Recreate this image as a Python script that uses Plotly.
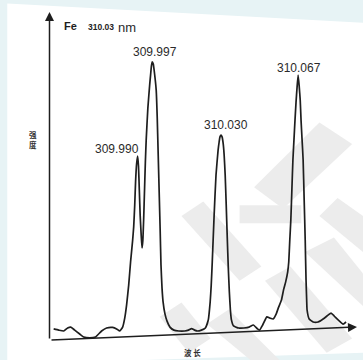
import plotly.graph_objects as go

# Fe 310.03 nm spectral window: wavelength (nm) and relative intensity
wavelength_nm = [
    309.9497, 309.9521, 309.9545, 309.9564, 309.9579, 309.9598, 309.9622, 309.9641,
    309.9670, 309.9698, 309.9727, 309.9751, 309.9780, 309.9799, 309.9814, 309.9828,
    309.9838, 309.9847, 309.9857, 309.9866, 309.9876, 309.9881, 309.9886, 309.9890,
    309.9895, 309.9900,
    309.9904, 309.9908, 309.9912, 309.9917, 309.9921, 309.9925, 309.9929, 309.9933,
    309.9937, 309.9941, 309.9949, 309.9958, 309.9962, 309.9966, 309.9970,
    309.9975, 309.9979, 309.9989, 309.9994, 309.9998, 310.0003, 310.0008, 310.0012,
    310.0017, 310.0022, 310.0031, 310.0041, 310.0055, 310.0074, 310.0097, 310.0126,
    310.0144, 310.0159, 310.0173, 310.0187, 310.0206, 310.0225, 310.0239, 310.0248,
    310.0253, 310.0258, 310.0267, 310.0276, 310.0286, 310.0291, 310.0295, 310.0300,
    310.0305, 310.0310, 310.0315, 310.0320, 310.0325, 310.0330, 310.0335, 310.0340,
    310.0345, 310.0350, 310.0360, 310.0385, 310.0410, 310.0435, 310.0455, 310.0475,
    310.0485, 310.0500, 310.0520, 310.0535, 310.0550, 310.0565, 310.0575, 310.0590,
    310.0600, 310.0610, 310.0620, 310.0625, 310.0630, 310.0635, 310.0640, 310.0645,
    310.0650, 310.0655, 310.0660, 310.0665, 310.0670,
    310.0675, 310.0680, 310.0684, 310.0689, 310.0694, 310.0699, 310.0704, 310.0708,
    310.0711, 310.0713, 310.0723, 310.0742, 310.0766, 310.0790, 310.0814, 310.0828,
    310.0843, 310.0862, 310.0886, 310.0900,
]
intensity = [
    3.7, 3.3, 3.0, 4.0, 4.3, 3.3, 2.0, 1.0,
    0.7, 1.0, 3.0, 4.0, 4.2, 3.7, 3.0, 4.3,
    7.3, 11.7, 18.3, 26.0, 33.3, 37.7, 45.0, 52.7,
    58.7, 61.3,
    58.0, 50.0, 41.7, 35.0, 30.7, 33.3, 40.7, 50.0,
    59.3, 66.7, 77.3, 85.3, 88.3, 91.3, 92.7,
    92.0, 90.0, 83.3, 74.0, 63.3, 50.0, 36.7, 25.0,
    17.3, 12.7, 8.7, 6.3, 4.3, 3.3, 3.0, 3.0,
    3.3, 3.8, 3.3, 3.0, 3.3, 4.0, 6.7, 12.7,
    18.3, 26.0, 41.7, 55.0, 63.3, 66.0, 67.7, 68.3,
    67.7, 65.7, 61.7, 55.0, 45.0, 34.0, 24.0, 16.0,
    10.0, 6.7, 4.7, 4.0, 4.0, 4.3, 5.0, 3.7,
    3.3, 5.0, 7.7, 7.3, 7.0, 8.7, 10.7, 13.3,
    16.7, 19.3, 22.7, 26.0, 33.3, 40.0, 50.0, 60.0,
    66.7, 73.3, 79.3, 84.3, 88.3,
    84.7, 80.0, 73.3, 66.7, 60.0, 46.7, 33.3, 20.0,
    13.3, 10.0, 7.0, 6.0, 6.0, 7.0, 8.3, 9.0,
    8.0, 6.7, 5.3, 6.0,
]

# labelled lines
peak_labels = ["309.990", "309.997", "310.030", "310.067"]
peak_wavelength = [309.990, 309.997, 310.030, 310.067]
peak_intensity = [61.3, 92.7, 68.3, 88.3]
label_offsets = [(-21, 7), (3, 10), (5, 10), (1, 7)]

W, H = 363, 360
INK = "#1e1e1e"

fig = go.Figure()

# page background: pale blue border around the white sheet
bg = "#e7f3f5"
fig.add_shape(type="path", xref="paper", yref="paper", layer="below",
              path="M 0 1 L 1 1 L 1 0.937 L 0.02 0.99 L 0.02 0 L 0 0 Z",
              fillcolor=bg, line=dict(width=0))
fig.add_shape(type="path", xref="paper", yref="paper", layer="below",
              path="M 0.40 0 L 1 0 L 1 0.02 Z",
              fillcolor=bg, line=dict(width=0))

# faint watermark strokes
wm = "#ececec"
wm_paths = [
    "M 0.88 0.66 L 0.97 0.60 L 0.78 0.42 L 0.70 0.48 Z",
    "M 0.66 0.43 L 0.83 0.43 L 0.83 0.38 L 0.66 0.38 Z",
    "M 0.93 0.45 L 1.0 0.40 L 1.0 0.30 L 0.88 0.40 Z",
    "M 0.50 0.40 L 0.56 0.44 L 0.72 0.26 L 0.66 0.22 Z",
    "M 0.57 0.10 L 0.63 0.14 L 0.77 0.0 L 0.69 0.0 Z",
    "M 0.84 0.30 L 0.92 0.34 L 1.0 0.24 L 1.0 0.15 Z",
    "M 0.73 0.22 L 0.80 0.26 L 0.97 0.06 L 0.90 0.02 Z",
    "M 0.44 0.12 L 0.50 0.16 L 0.58 0.06 L 0.52 0.02 Z",
]
for p in wm_paths:
    fig.add_shape(type="path", xref="paper", yref="paper", layer="below",
                  path=p, fillcolor=wm, line=dict(width=0))

fig.add_trace(go.Scatter(
    x=wavelength_nm, y=intensity, mode="lines",
    line=dict(color=INK, width=1.7, shape="spline", smoothing=0.4),
    hoverinfo="skip", showlegend=False,
))

for lab, wl, it, (dx, dy) in zip(peak_labels, peak_wavelength, peak_intensity, label_offsets):
    fig.add_annotation(x=wl, y=it, text=lab, showarrow=False,
                       xshift=dx, yshift=dy, xanchor="center", yanchor="middle",
                       font=dict(family="Liberation Sans, Arial", size=12, color="#2a2a2a"))

# hand-drawn style axes as arrows
fig.add_annotation(xref="paper", yref="paper", x=49.5 / W, y=1 - 12 / H,
                   ax=0, ay=328, axref="pixel", ayref="pixel", text="",
                   showarrow=True, arrowhead=2, arrowsize=1.2, arrowwidth=1.5,
                   arrowcolor=INK)
fig.add_annotation(xref="paper", yref="paper", x=357 / W, y=1 - 327 / H,
                   ax=-307, ay=13, axref="pixel", ayref="pixel", text="",
                   showarrow=True, arrowhead=2, arrowsize=1.2, arrowwidth=1.5,
                   arrowcolor=INK)

# title pieces: element, line wavelength, unit
fig.add_annotation(xref="paper", yref="paper", x=62 / W, y=1 - 26 / H, text="<b>Fe</b>",
                   showarrow=False, xanchor="left", yanchor="middle",
                   font=dict(family="Liberation Sans, Arial", size=11, color=INK))
fig.add_annotation(xref="paper", yref="paper", x=86 / W, y=1 - 27.5 / H, text="<b>310.03</b>",
                   showarrow=False, xanchor="left", yanchor="middle",
                   font=dict(family="Liberation Sans, Arial", size=8.5, color=INK))
fig.add_annotation(xref="paper", yref="paper", x=116 / W, y=1 - 28 / H, text="nm",
                   showarrow=False, xanchor="left", yanchor="middle",
                   font=dict(family="Liberation Sans, Arial", size=13, color="#2a2a2a"))

# axis titles
fig.add_annotation(xref="paper", yref="paper", x=33 / W, y=1 - 140 / H, text="<b>强<br>度</b>",
                   showarrow=False, xanchor="center", yanchor="middle",
                   font=dict(family="Noto Sans CJK SC", size=7.5, color="#333333"))
fig.add_annotation(xref="paper", yref="paper", x=192 / W, y=1 - 352 / H, text="<b>波 长</b>",
                   showarrow=False, xanchor="center", yanchor="middle",
                   font=dict(family="Noto Sans CJK SC", size=7.5, color="#333333"))

fig.update_layout(
    width=W, height=H,
    margin=dict(l=0, r=0, t=0, b=0),
    paper_bgcolor="white", plot_bgcolor="rgba(0,0,0,0)",
    xaxis=dict(range=[309.92395, 310.09813], visible=False, fixedrange=True),
    yaxis=dict(range=[-6.667, 113.333], visible=False, fixedrange=True),
)

fig.write_html("out.html")
